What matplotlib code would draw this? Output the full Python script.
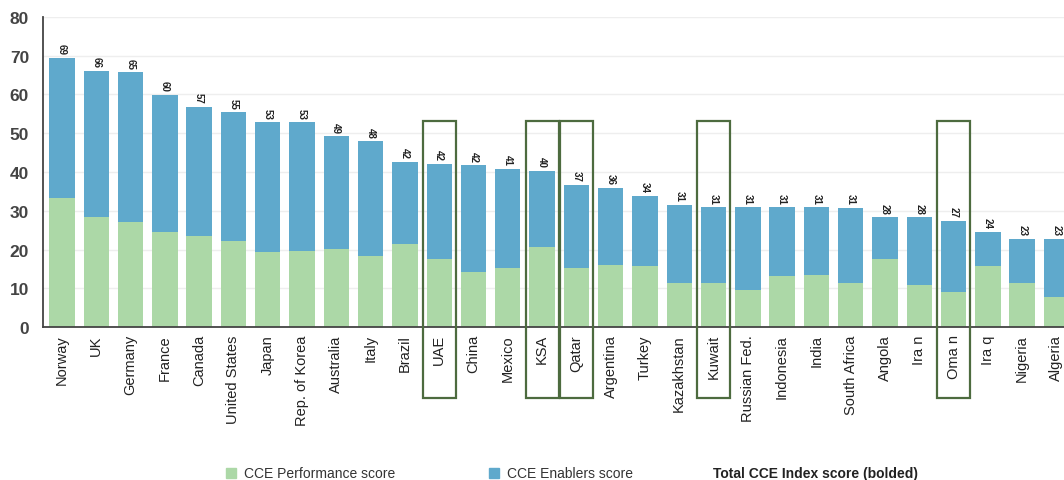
import matplotlib
matplotlib.use("Agg")
import matplotlib.pyplot as plt
from matplotlib.patches import Rectangle
import numpy as np

countries = ["Norway", "UK", "Germany", "France", "Canada", "United States", "Japan",
             "Rep. of Korea", "Australia", "Italy", "Brazil", "UAE", "China", "Mexico",
             "KSA", "Qatar", "Argentina", "Turkey", "Kazakhstan", "Kuwait", "Russian Fed.",
             "Indonesia", "India", "South Africa", "Angola", "Ira n", "Oma n", "Ira q",
             "Nigeria", "Algeria"]
performance = [33.3, 28.3, 27.2, 24.6, 23.6, 22.3, 19.3, 19.6, 20.2, 18.3, 21.5, 17.6,
               14.3, 15.2, 20.6, 15.2, 16.1, 15.7, 11.3, 11.3, 9.6, 13.1, 13.6, 11.3,
               17.6, 10.9, 9.2, 15.7, 11.3, 7.9]
enablers = [36.2, 37.8, 38.5, 35.3, 33.3, 33.1, 33.5, 33.2, 29.0, 29.6, 21.2, 24.5,
            27.4, 25.6, 19.8, 21.6, 19.8, 18.1, 20.2, 19.6, 21.3, 17.8, 17.3, 19.4,
            10.7, 17.4, 18.3, 8.8, 11.5, 14.9]
total_labels = [69, 66, 65, 60, 57, 55, 53, 53, 49, 48, 42, 42, 42, 41, 40, 37, 36, 34,
                31, 31, 31, 31, 31, 31, 28, 28, 27, 24, 23, 23]
highlighted = ["UAE", "KSA", "Qatar", "Kuwait", "Oma n"]

green = "#acd8a7"
blue = "#5fa9cc"
box_color = "#4d6b3f"

plt.rcParams['font.family'] = ['Liberation Sans', 'DejaVu Sans']

fig = plt.figure(figsize=(10.64, 4.81), dpi=100)
ax = fig.add_axes([0.0404, 0.3175, 0.9596, 0.6453])

x = np.arange(len(countries))
ax.bar(x, performance, width=0.74, color=green, zorder=2)
ax.bar(x, enablers, width=0.74, bottom=performance, color=blue, zorder=2)

tops = np.array(performance) + np.array(enablers)
for xi, t, lab in zip(x, tops, total_labels):
    ax.text(xi, t + 1.0, str(lab), rotation=-90, ha="center", va="bottom",
            fontsize=7, fontweight="bold", color="#222222")

for name in highlighted:
    i = countries.index(name)
    ax.add_patch(Rectangle((i - 0.48, -18.2), 0.96, 53.2 + 18.2, fill=False,
                           edgecolor=box_color, linewidth=1.6, clip_on=False, zorder=3))

ax.set_xlim(-0.554, 29.22)
ax.set_ylim(0, 80)
ax.set_yticks(range(0, 81, 10))
ax.set_xticks(x)
ax.set_xticklabels(countries, rotation=90, fontsize=10.5, color="#222222")
ax.tick_params(axis="both", length=0, pad=5)
ax.tick_params(axis="y", labelsize=12.5, labelcolor="#444444", pad=10)
for lbl in ax.get_yticklabels():
    lbl.set_fontweight("bold")
ax.yaxis.grid(True, color="#eeeeee", linewidth=1, zorder=0)
ax.spines["top"].set_visible(False)
ax.spines["right"].set_visible(False)
ax.spines["left"].set_color("#444444")
ax.spines["bottom"].set_color("#444444")
ax.spines["left"].set_linewidth(1.3)
ax.spines["bottom"].set_linewidth(1.3)

# legend row along the bottom
W, H = 1064.0, 481.0
ly = 1 - 474 / H
sq = 10
for px, col, label in [(226, green, "CCE Performance score"),
                       (489, blue, "CCE Enablers score")]:
    fig.patches.append(Rectangle((px / W, ly - sq / 2 / H), sq / W, sq / H,
                                 transform=fig.transFigure, color=col))
    fig.text((px + sq + 8) / W, ly, label, fontsize=10, color="#333333",
             va="center", ha="left")
fig.text(713 / W, ly, "Total CCE Index score (bolded)", fontsize=10,
         fontweight="bold", color="#222222", va="center", ha="left")

fig.savefig("out.png", dpi=100)
